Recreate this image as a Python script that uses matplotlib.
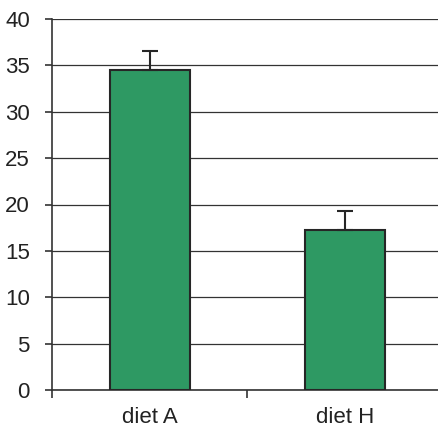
import matplotlib
matplotlib.use('Agg')
import matplotlib.pyplot as plt
from matplotlib.ticker import FixedLocator

plt.rcParams['font.family'] = ['Liberation Sans', 'DejaVu Sans']

diets = ['diet A', 'diet H']
means = [34.5, 17.25]
errs = [2.05, 2.05]

fig = plt.figure(figsize=(4.38, 4.32), dpi=100)
ax = fig.add_axes([52 / 438, 42 / 432, 390.5 / 438, 371 / 432])

x = range(len(diets))
ax.set_axisbelow(True)
ax.yaxis.grid(True, color='#333333', linewidth=0.9)
ax.bar(x, means, width=0.41, color='#2e9963', edgecolor='#262626', linewidth=1.5,
       yerr=[[0, 0], errs], error_kw=dict(ecolor='#262626', elinewidth=1.5, capsize=6, capthick=1.5),
       zorder=3)

ax.set_ylim(0, 40)
ax.set_yticks(range(0, 41, 5))
ax.set_xlim(-0.5, 1.5)
ax.set_xticks(list(x))
ax.set_xticklabels(diets)
ax.xaxis.set_minor_locator(FixedLocator([-0.5, 0.5, 1.5]))

for s in ['top', 'right']:
    ax.spines[s].set_visible(False)
for s in ['left', 'bottom']:
    ax.spines[s].set_color('#333333')
    ax.spines[s].set_linewidth(1.2)

ax.tick_params(axis='y', labelsize=16, length=5, width=1.2, color='#333333', pad=11, labelcolor='#222222')
ax.tick_params(axis='x', which='major', labelsize=16, length=0, pad=12, labelcolor='#222222')
ax.tick_params(axis='x', which='minor', length=6, width=1.2, color='#333333', direction='out')

fig.savefig('out.png', dpi=100)
